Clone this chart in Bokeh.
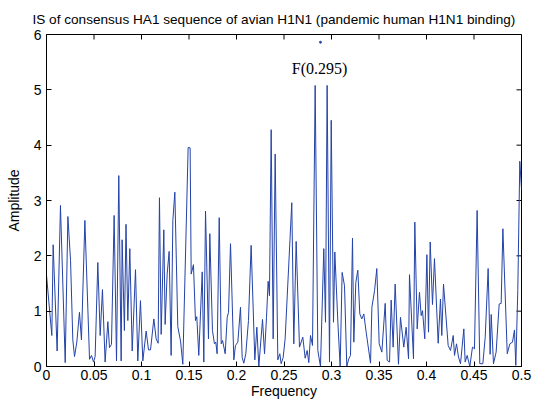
import math
from bokeh.plotting import figure
from bokeh.models import Range1d, FixedTicker, Label
from bokeh.embed import file_html
from bokeh.resources import INLINE

# ---- data ----
freq = [0.0, 0.0056, 0.0070, 0.0112, 0.0147, 0.0197, 0.0225, 0.0253, 0.0277, 0.0295,
        0.0319, 0.0347, 0.0368, 0.0404, 0.0453, 0.0474, 0.0495, 0.0512, 0.0540, 0.0565,
        0.0589, 0.0617, 0.0646, 0.0663, 0.0684, 0.0712, 0.0737, 0.0761, 0.0786, 0.0796,
        0.0820, 0.0837, 0.0856, 0.0877, 0.0902, 0.0937, 0.0961, 0.0989, 0.1014, 0.1049,
        0.1074, 0.1095, 0.1130, 0.1154, 0.1175, 0.1189, 0.1207, 0.1235, 0.1249, 0.1270,
        0.1291, 0.1312, 0.1330, 0.1351, 0.1382, 0.1411, 0.1435, 0.1491, 0.1512, 0.1523,
        0.1547, 0.1568, 0.1582, 0.1603, 0.1639, 0.1656, 0.1674, 0.1705, 0.1719, 0.1747,
        0.1768, 0.1782, 0.1796, 0.1818, 0.1839, 0.1853, 0.1881, 0.1902, 0.1916, 0.1937,
        0.1972, 0.1989, 0.2014, 0.2042, 0.2060, 0.2077, 0.2098, 0.2126, 0.2154, 0.2193,
        0.2214, 0.2235, 0.2274, 0.2295, 0.2316, 0.2333, 0.2347, 0.2365, 0.2386, 0.2407,
        0.2435, 0.2456, 0.2470, 0.2491, 0.2512, 0.2582, 0.2603, 0.2628, 0.2663, 0.2698,
        0.2723, 0.2744, 0.2761, 0.2779, 0.2800, 0.2828, 0.2856, 0.2884, 0.2919, 0.2937,
        0.2954, 0.2979, 0.2997, 0.3021, 0.3035, 0.3067, 0.3091, 0.3112, 0.3137, 0.3161,
        0.3182, 0.3200, 0.3221, 0.3235, 0.3256, 0.3277, 0.3298, 0.3319, 0.3340, 0.3365,
        0.3382, 0.3411, 0.3425, 0.3453, 0.3477, 0.3502, 0.3530, 0.3565, 0.3586, 0.3611,
        0.3628, 0.3649, 0.3670, 0.3705, 0.3726, 0.3761, 0.3786, 0.3811, 0.3821, 0.3863,
        0.3877, 0.3902, 0.3926, 0.3944, 0.3958, 0.3982, 0.4004, 0.4021, 0.4039, 0.4063,
        0.4084, 0.4123, 0.4147, 0.4161, 0.4179, 0.4228, 0.4253, 0.4281, 0.4295, 0.4316,
        0.4337, 0.4358, 0.4393, 0.4407, 0.4428, 0.4456, 0.4484, 0.4505, 0.4533, 0.4561,
        0.4593, 0.4618, 0.4649, 0.4670, 0.4681, 0.4705, 0.4733, 0.4765, 0.4786, 0.4804,
        0.4850, 0.4877, 0.4905, 0.4926, 0.4940, 0.4961, 0.4982, 0.5000]

amplitude = [1.65, 0.56, 2.20, 0.28, 2.91, 0.07, 2.71, 1.92, 0.48, 0.18,
             0.44, 0.98, 0.48, 2.64, 0.13, 0.20, 0.08, 0.18, 1.88, 0.56,
             1.39, 0.08, 0.81, 0.34, 0.40, 2.73, 0.10, 3.45, 0.10, 2.29,
             0.65, 2.57, 0.83, 2.13, 0.28, 1.75, 0.10, 1.19, 0.10, 0.64,
             0.30, 0.30, 0.86, 0.50, 0.42, 3.05, 0.58, 2.47, 0.76, 1.67,
             2.08, 0.20, 2.64, 3.15, 0.72, 0.46, 0.04, 3.96, 3.95, 1.67,
             1.84, 0.83, 0.90, 0.20, 1.71, 0.08, 2.81, 0.50, 2.40, 0.65,
             0.41, 0.44, 0.23, 2.69, 0.41, 0.47, 0.23, 0.89, 0.98, 2.22,
             0.12, 0.38, 0.44, 1.07, 0.16, 0.06, 0.23, 0.83, 2.19, 0.12,
             0.71, 0.00, 0.85, 0.23, 0.89, 1.54, 1.28, 4.28, 0.50, 3.84,
             0.12, 0.23, 0.05, 0.16, 0.50, 2.96, 0.41, 2.26, 0.35, 0.53,
             0.15, 0.29, 0.07, 0.56, 0.38, 5.08, 0.29, 0.00, 2.13, 0.80,
             5.08, 0.08, 4.45, 0.80, 2.07, 0.80, 0.00, 1.70, 1.46, 0.00,
             0.14, 0.20, 2.32, 0.44, 1.52, 1.74, 0.95, 0.86, 0.95, 0.62,
             0.41, 0.06, 1.07, 1.37, 1.77, 0.41, 0.26, 1.14, 0.11, 0.08,
             1.20, 0.35, 1.49, 0.04, 0.89, 0.35, 0.71, 0.14, 1.66, 0.14,
             2.61, 0.68, 1.34, 0.92, 1.01, 0.50, 2.02, 0.62, 2.25, 1.12,
             1.95, 0.42, 1.22, 0.56, 1.49, 0.38, 0.29, 0.56, 0.20, 0.41,
             0.17, 0.05, 0.68, 0.08, 0.20, 0.00, 0.35, 0.32, 2.82, 0.05,
             0.05, 0.53, 1.77, 0.22, 0.94, 0.05, 0.26, 1.13, 1.14, 2.49,
             0.23, 0.41, 0.44, 0.66, 0.02, 1.37, 3.71, 3.20]

x_ticks = [0, 0.05, 0.1, 0.15, 0.2, 0.25, 0.3, 0.35, 0.4, 0.45, 0.5]
x_tick_labels = ["0", "0.05", "0.1", "0.15", "0.2", "0.25", "0.3", "0.35", "0.4", "0.45", "0.5"]
y_ticks = [0, 1, 2, 3, 4, 5, 6]

peak_marker_freq = [0.2884]
peak_marker_amp = [5.86]
peak_label = "F(0.295)"

title_text = "IS of consensus HA1 sequence of avian H1N1 (pandemic human H1N1 binding)"

LINE = "#2443a8"
FONT = "Liberation Sans"
X_MIN, X_MAX, Y_MIN, Y_MAX = 0, 0.5, 0, 6

p = figure(width=533, height=402, x_range=Range1d(X_MIN, X_MAX), y_range=Range1d(Y_MIN, Y_MAX),
           output_backend="svg", toolbar_location=None,
           min_border_left=46, min_border_right=12, min_border_top=34, min_border_bottom=36,
           x_axis_label="Frequency", y_axis_label="Amplitude")

p.title.text = title_text
p.title.align = "left"
p.title.offset = -14
p.title.standoff = 16
p.title.text_font = FONT
p.title.text_font_style = "normal"
p.title.text_font_size = "13.6px"
p.title.text_color = "black"

p.xgrid.visible = False
p.ygrid.visible = False
p.outline_line_color = "black"
p.background_fill_color = "white"
p.border_fill_color = "white"

for ax in (p.xaxis[0], p.yaxis[0]):
    ax.major_tick_in = 5
    ax.major_tick_out = 0
    ax.minor_tick_line_color = None
    ax.axis_line_color = "black"
    ax.major_tick_line_color = "black"
    ax.major_label_text_font = FONT
    ax.major_label_text_font_size = "14px"
    ax.major_label_text_color = "black"
    ax.axis_label_text_font = FONT
    ax.axis_label_text_font_size = "14px"
    ax.axis_label_text_font_style = "normal"
    ax.axis_label_text_color = "black"

p.xaxis.ticker = FixedTicker(ticks=x_ticks)
p.xaxis.major_label_overrides = {t: s for t, s in zip(x_ticks, x_tick_labels)}
p.xaxis.major_label_standoff = 3
p.xaxis.axis_label_standoff = 0
p.yaxis.ticker = FixedTicker(ticks=y_ticks)
p.yaxis.major_label_standoff = 5
p.yaxis.axis_label_standoff = 9

# inward ticks on the top and right edges (dash markers, clipped to the frame)
p.scatter(x_ticks, [Y_MAX] * len(x_ticks), marker="dash", size=10, angle=math.pi / 2,
          line_color="black", line_width=1)
p.scatter([X_MAX] * len(y_ticks), y_ticks, marker="dash", size=10,
          line_color="black", line_width=1)

p.line(freq, amplitude, line_color=LINE, line_width=1)
p.scatter(peak_marker_freq, peak_marker_amp, size=2, color=LINE)

p.add_layout(Label(x=0.2874, y=5.39, text=peak_label, text_font="Liberation Serif",
                   text_font_size="16px", text_align="center", text_baseline="middle",
                   text_color="black"))

open("out.html", "w").write(file_html(p, INLINE))
